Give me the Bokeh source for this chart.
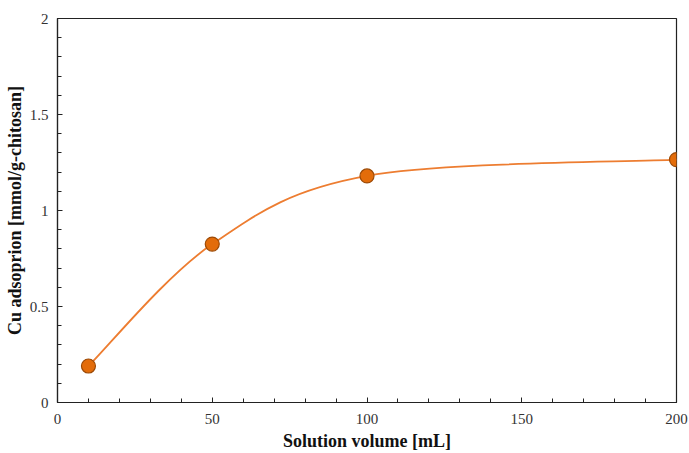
from bokeh.plotting import figure
from bokeh.embed import file_html
from bokeh.resources import INLINE
from bokeh.models import FixedTicker, Range1d

volume = [10, 50, 100, 200]
adsorption = [0.19, 0.825, 1.18, 1.265]
x_ticks = [0, 50, 100, 150, 200]
y_ticks = [0, 0.5, 1, 1.5, 2]
y_tick_labels = ["0", "0.5", "1", "1.5", "2"]

# smooth curve (Catmull-Rom style Bezier segments, like a spreadsheet's smoothed line)
n = len(volume)
x0, y0, x1, y1, cx0, cy0, cx1, cy1 = [], [], [], [], [], [], [], []
for i in range(n - 1):
    pm = max(i - 1, 0)
    pp = min(i + 2, n - 1)
    x0.append(volume[i]); y0.append(adsorption[i])
    x1.append(volume[i + 1]); y1.append(adsorption[i + 1])
    cx0.append(volume[i] + (volume[i + 1] - volume[pm]) / 6)
    cy0.append(adsorption[i] + (adsorption[i + 1] - adsorption[pm]) / 6)
    cx1.append(volume[i + 1] - (volume[pp] - volume[i]) / 6)
    cy1.append(adsorption[i + 1] - (adsorption[pp] - adsorption[i]) / 6)

p = figure(width=689, height=453, output_backend="svg", toolbar_location=None,
           x_range=Range1d(0, 200), y_range=Range1d(0, 2),
           min_border_left=57, min_border_right=13, min_border_top=18, min_border_bottom=49)

p.grid.visible = False
p.outline_line_color = "#222222"
p.outline_line_width = 1.2
p.background_fill_color = "white"
p.border_fill_color = "white"

p.bezier(x0=x0, y0=y0, x1=x1, y1=y1, cx0=cx0, cy0=cy0, cx1=cx1, cy1=cy1,
         line_color="#ED7D31", line_width=1.8)
p.scatter(volume, adsorption, size=14, fill_color="#E36C0A", line_color="#9C4A06",
          line_width=1.2)

for ax in (p.xaxis[0], p.yaxis[0]):
    ax.axis_line_color = "#222222"
    ax.axis_line_width = 1.2
    ax.major_tick_in = 5
    ax.major_tick_out = 0
    ax.minor_tick_in = 4
    ax.minor_tick_out = 0
    ax.major_tick_line_color = "#222222"
    ax.minor_tick_line_color = "#222222"
    ax.major_label_text_font = "Liberation Serif"
    ax.major_label_text_font_size = "15px"
    ax.major_label_text_color = "#333333"
    ax.axis_label_text_font = "Liberation Serif"
    ax.axis_label_text_font_style = "bold"
    ax.axis_label_text_font_size = "18px"
    ax.axis_label_text_color = "#111111"

p.xaxis.ticker = FixedTicker(ticks=x_ticks, minor_ticks=list(range(0, 201, 10)))
p.yaxis.ticker = FixedTicker(ticks=y_ticks, minor_ticks=[i / 10 for i in range(0, 21)])
p.yaxis.major_label_overrides = {t: l for t, l in zip(y_ticks, y_tick_labels)}
p.xaxis.axis_label = "Solution volume [mL]"
p.yaxis.axis_label = "Cu adsoprion [mmol/g-chitosan]"
p.xaxis.major_label_standoff = 11
p.yaxis.major_label_standoff = 9
p.xaxis.axis_label_standoff = 4
p.yaxis.axis_label_standoff = 2

open("out.html", "w").write(file_html(p, INLINE))
